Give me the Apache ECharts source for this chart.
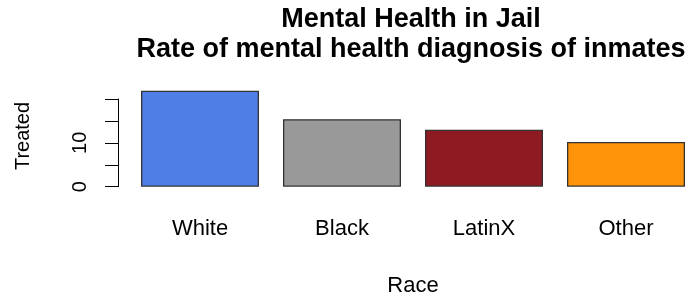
<!DOCTYPE html>
<html>
<head>
<meta charset="utf-8">
<script src="https://cdn.jsdelivr.net/npm/echarts@6/dist/echarts.min.js"></script>
<style>
html,body{margin:0;padding:0;background:#fff;overflow:hidden;}
#chart{width:700px;height:300px;}
</style>
</head>
<body>
<div id="chart"></div>
<script>
const categories = ["White", "Black", "LatinX", "Other"];
const treated = [21.9, 15.4, 13.0, 10.2];
const barColors = ["#4F7EE6", "#999999", "#8E1A22", "#FF930A"];
const yTickLabels = [0, 10];
const titleLines = ["Mental Health in Jail", "Rate of mental health diagnosis of inmates"];

const FONT = "Liberation Sans, Arial, Helvetica, sans-serif";
const chart = echarts.init(document.getElementById("chart"), null, {renderer: "canvas"});
chart.setOption({
  animation: false,
  backgroundColor: "#ffffff",
  title: {
    text: titleLines.join("\n"),
    left: 406,
    textAlign: "center",
    top: 0,
    textStyle: {fontFamily: FONT, fontSize: 27, fontWeight: "bold", color: "#000", lineHeight: 30}
  },
  graphic: [{
    type: "text",
    x: 23,
    y: 136,
    rotation: Math.PI / 2,
    style: {text: "Treated", fontFamily: FONT, fontSize: 20, fill: "#000", textAlign: "center", textVerticalAlign: "middle"}
  }],
  grid: {left: 129, top: 99, width: 568, height: 87.7, containLabel: false},
  xAxis: {
    type: "category",
    data: categories,
    axisLine: {show: false},
    axisTick: {show: false},
    axisLabel: {fontFamily: FONT, fontSize: 22, color: "#000", margin: 31},
    name: "Race",
    nameLocation: "middle",
    nameGap: 88,
    nameTextStyle: {fontFamily: FONT, fontSize: 22, color: "#000"}
  },
  yAxis: {
    type: "value",
    min: 0,
    max: 20,
    interval: 5,
    offset: 11,
    axisLine: {show: true, lineStyle: {color: "#000", width: 1}},
    axisTick: {show: true, length: 13, lineStyle: {color: "#000", width: 1}},
    splitLine: {show: false},
    axisLabel: {
      fontFamily: FONT, fontSize: 20, color: "#000", rotate: 90, margin: 28,
      formatter: function (v) { return yTickLabels.indexOf(v) >= 0 ? String(v) : ""; }
    }
  },
  series: [{
    type: "bar",
    clip: false,
    barWidth: 118,
    data: treated.map(function (v, i) {
      return {value: v, itemStyle: {color: barColors[i]}};
    }),
    itemStyle: {borderColor: "#333333", borderWidth: 1.3}
  }]
});
</script>
</body>
</html>
